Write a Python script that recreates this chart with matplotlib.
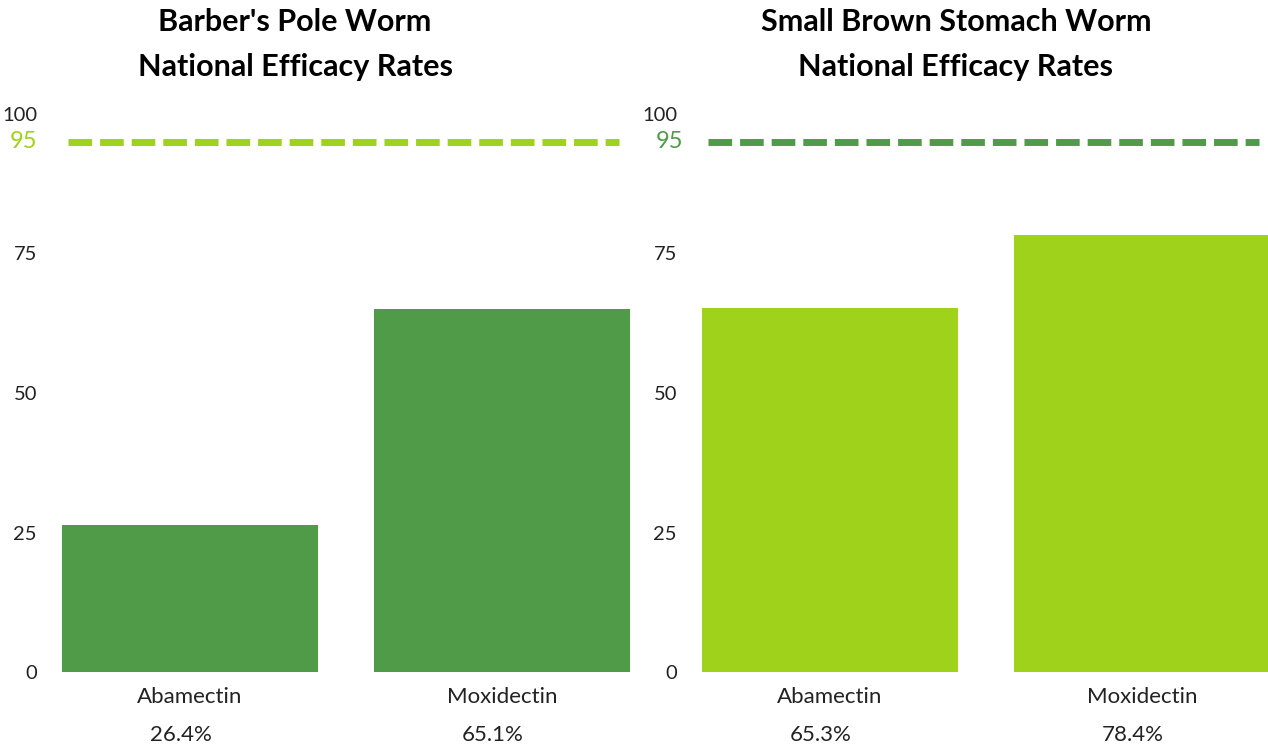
import matplotlib
matplotlib.use("Agg")
import matplotlib.pyplot as plt
from matplotlib.transforms import blended_transform_factory

# Efficacy data for the two worm species
drugs = ["Abamectin", "Moxidectin"]
barbers_pole = [26.4, 65.1]
small_brown = [65.3, 78.4]
target = 95
yticks = [0, 25, 50, 75, 100]

titles = [
    ["Barber's Pole Worm", "National Efficacy Rates"],
    ["Small Brown Stomach Worm", "National Efficacy Rates"],
]

DARK = "#509B48"
LIME = "#9FD21A"
TEXT = "#222222"

W, H = 1268, 747
fig = plt.figure(figsize=(W / 100, H / 100), dpi=100)
fig.patch.set_facecolor("white")

panels = [
    dict(values=barbers_pole, bar=DARK, line=LIME, left=62, title_x=295, tgt_gap=25),
    dict(values=small_brown, bar=LIME, line=DARK, left=702, title_x=956, tgt_gap=19),
]

for p, title in zip(panels, titles):
    ax = fig.add_axes([p["left"] / W, 75 / H, 568 / W, 558 / H])
    x = list(range(len(drugs)))
    ax.bar(x, p["values"], width=0.82, color=p["bar"], zorder=2)
    ax.set_xlim(-0.41, len(drugs) - 1 + 0.41)
    ax.set_ylim(0, 100)
    for s in ax.spines.values():
        s.set_visible(False)
    ax.set_yticks(yticks)
    ax.set_yticklabels([str(t) for t in yticks], fontsize=14.5, family="Lato",
                       color=TEXT)
    ax.tick_params(axis="y", length=0, pad=18)
    ax.set_xticks(x)
    ax.set_xticklabels(drugs, fontsize=16, family="Lato", color=TEXT)
    ax.tick_params(axis="x", length=0, pad=11)

    # target line
    ytr = blended_transform_factory(ax.transAxes, ax.transData)
    ax.plot([0.01, 0.98], [target, target], transform=ytr,
            color=p["line"], linewidth=5.0, solid_capstyle="butt",
            dash_capstyle="butt", dashes=(3.4, 1.15), clip_on=False, zorder=3)
    ax.text(-p["tgt_gap"] / 568, target, str(target), transform=ytr,
            ha="right", va="center", fontsize=17, family="Lato", color=p["line"])

    # value labels under the category names
    tr = blended_transform_factory(ax.transData, ax.transAxes)
    for xi, v in zip(x, p["values"]):
        ax.text(xi - 0.03, -63 / 558, f"{v:.1f}%", transform=tr, ha="center",
                va="center", fontsize=16, family="Lato", color=TEXT)

    for line, yc in zip(title, [22, 67]):
        fig.text(p["title_x"] / W, 1 - yc / H, line, ha="center", va="center",
                 fontsize=22, fontweight="bold", family="Lato", color="black")

fig.savefig("out.png", dpi=100, facecolor="white")
